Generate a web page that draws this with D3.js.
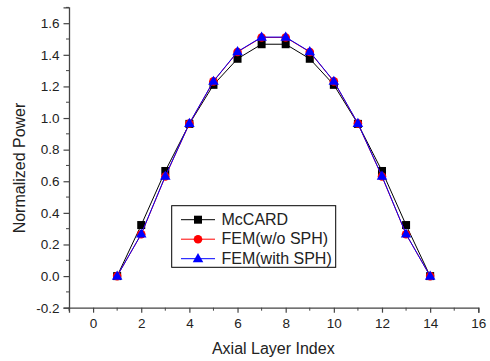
<!DOCTYPE html>
<html>
<head>
    <meta charset="utf-8">
    <style>
        body { margin: 0; padding: 0; overflow: hidden; background-color: #fff; }
        text { font-family: Arial, "Liberation Sans", sans-serif; fill: #222; }
    </style>
</head>
<body>
    <div id="chart"></div>
    <script src="https://d3js.org/d3.v7.min.js"></script>
    <script>
        var layers = [1, 2, 3, 4, 5, 6, 7, 8, 9, 10, 11, 12, 13, 14];
        var mccard = [0, 0.323, 0.665, 0.963, 1.21, 1.375, 1.467, 1.467, 1.375, 1.21, 0.963, 0.665, 0.323, 0];
        var femNoSph = [0, 0.265, 0.63, 0.965, 1.232, 1.418, 1.51, 1.51, 1.418, 1.232, 0.965, 0.63, 0.265, 0];
        var femSph = [0, 0.266, 0.632, 0.966, 1.233, 1.42, 1.512, 1.512, 1.42, 1.233, 0.966, 0.632, 0.266, 0];
        var seriesNames = ["McCARD", "FEM(w/o SPH)", "FEM(with SPH)"];
        var seriesColors = ["#000000", "#ff0000", "#0000ff"];
        var xTicks = [0, 2, 4, 6, 8, 10, 12, 14, 16];
        var yTicks = [-0.2, 0.0, 0.2, 0.4, 0.6, 0.8, 1.0, 1.2, 1.4, 1.6];

        var width = 490, height = 361;
        var plotLeft = 69, plotRight = 478.3, plotTop = 7.4, plotBottom = 307.7;

        var svg = d3.select("#chart").append("svg")
            .attr("width", width)
            .attr("height", height);

        var x = d3.scaleLinear().domain([-1, 16]).range([plotLeft, plotRight]);
        var y = d3.scaleLinear().domain([-0.2, 1.7]).range([plotBottom, plotTop]);

        // minor ticks
        var xMinor = d3.range(-1, 16, 1).filter(function(v) { return v % 2 !== 0; });
        var yMinor = d3.range(-0.1, 1.71, 0.2);

        // keep a plain hyphen for negatives, like the original
        var yFmt = function(d) { return d.toFixed(1); };

        var xAxis = svg.append("g")
            .attr("transform", "translate(0," + plotBottom + ")")
            .call(d3.axisBottom(x).tickValues(xTicks).tickSize(5).tickPadding(5.5).tickFormat(d3.format("d")));
        xAxis.append("g").selectAll("line").data(xMinor).enter().append("line")
            .attr("x1", function(d) { return x(d); }).attr("x2", function(d) { return x(d); })
            .attr("y1", 0).attr("y2", 3).attr("stroke", "#444");

        var yAxis = svg.append("g")
            .attr("transform", "translate(" + plotLeft + ",0)")
            .call(d3.axisLeft(y).tickValues(yTicks).tickSize(5.5).tickPadding(4).tickFormat(yFmt));
        yAxis.append("g").selectAll("line").data(yMinor).enter().append("line")
            .attr("y1", function(d) { return y(d); }).attr("y2", function(d) { return y(d); })
            .attr("x1", 0).attr("x2", -3).attr("stroke", "#444");

        svg.selectAll(".domain").attr("stroke", "#444").attr("stroke-width", 1.3);
        svg.selectAll(".tick line").attr("stroke", "#444").attr("stroke-width", 1.2);
        svg.selectAll(".tick text").style("font-size", "13.5px").style("font-family", "Arial, 'Liberation Sans', sans-serif").attr("fill", "#222");

        svg.append("text")
            .attr("x", 273.3)
            .attr("y", 353.5)
            .attr("text-anchor", "middle")
            .style("font-size", "16px")
            .text("Axial Layer Index");

        svg.append("text")
            .attr("transform", "translate(25,168) rotate(-90)")
            .attr("text-anchor", "middle")
            .style("font-size", "16px")
            .text("Normalized Power");

        var allSeries = [mccard, femNoSph, femSph];
        var line = d3.line()
            .x(function(d, i) { return x(layers[i]); })
            .y(function(d) { return y(d); });

        function drawMarker(g, type, cx, cy, color) {
            if (type === 0) {
                g.append("rect").attr("x", cx - 4).attr("y", cy - 4).attr("width", 8).attr("height", 8).attr("fill", color);
            } else if (type === 1) {
                g.append("circle").attr("cx", cx).attr("cy", cy).attr("r", 4.3).attr("fill", color);
            } else {
                g.append("path")
                    .attr("d", d3.symbol().type(d3.symbolTriangle).size(48)())
                    .attr("transform", "translate(" + cx + "," + (cy + 0.5) + ")")
                    .attr("fill", color);
            }
        }

        allSeries.forEach(function(values, s) {
            var g = svg.append("g");
            g.append("path")
                .datum(values)
                .attr("d", line)
                .attr("fill", "none")
                .attr("stroke", seriesColors[s])
                .attr("stroke-width", 1);
            values.forEach(function(v, i) {
                drawMarker(g, s, x(layers[i]), y(v), seriesColors[s]);
            });
        });

        // legend
        var legend = svg.append("g");
        legend.append("rect")
            .attr("x", 171.7).attr("y", 205.7)
            .attr("width", 164).attr("height", 61.6)
            .attr("fill", "#fff").attr("stroke", "#000").attr("stroke-width", 1);
        seriesNames.forEach(function(name, s) {
            var ly = 219.7 + s * 19.5;
            legend.append("line")
                .attr("x1", 181).attr("x2", 215).attr("y1", ly).attr("y2", ly)
                .attr("stroke", seriesColors[s]).attr("stroke-width", 1);
            drawMarker(legend, s, 198, ly, seriesColors[s]);
            legend.append("text")
                .attr("x", 221.5).attr("y", ly + 5.2)
                .style("font-size", "16px")
                .attr("fill", "#111")
                .text(name);
        });
    </script>
</body>
</html>
